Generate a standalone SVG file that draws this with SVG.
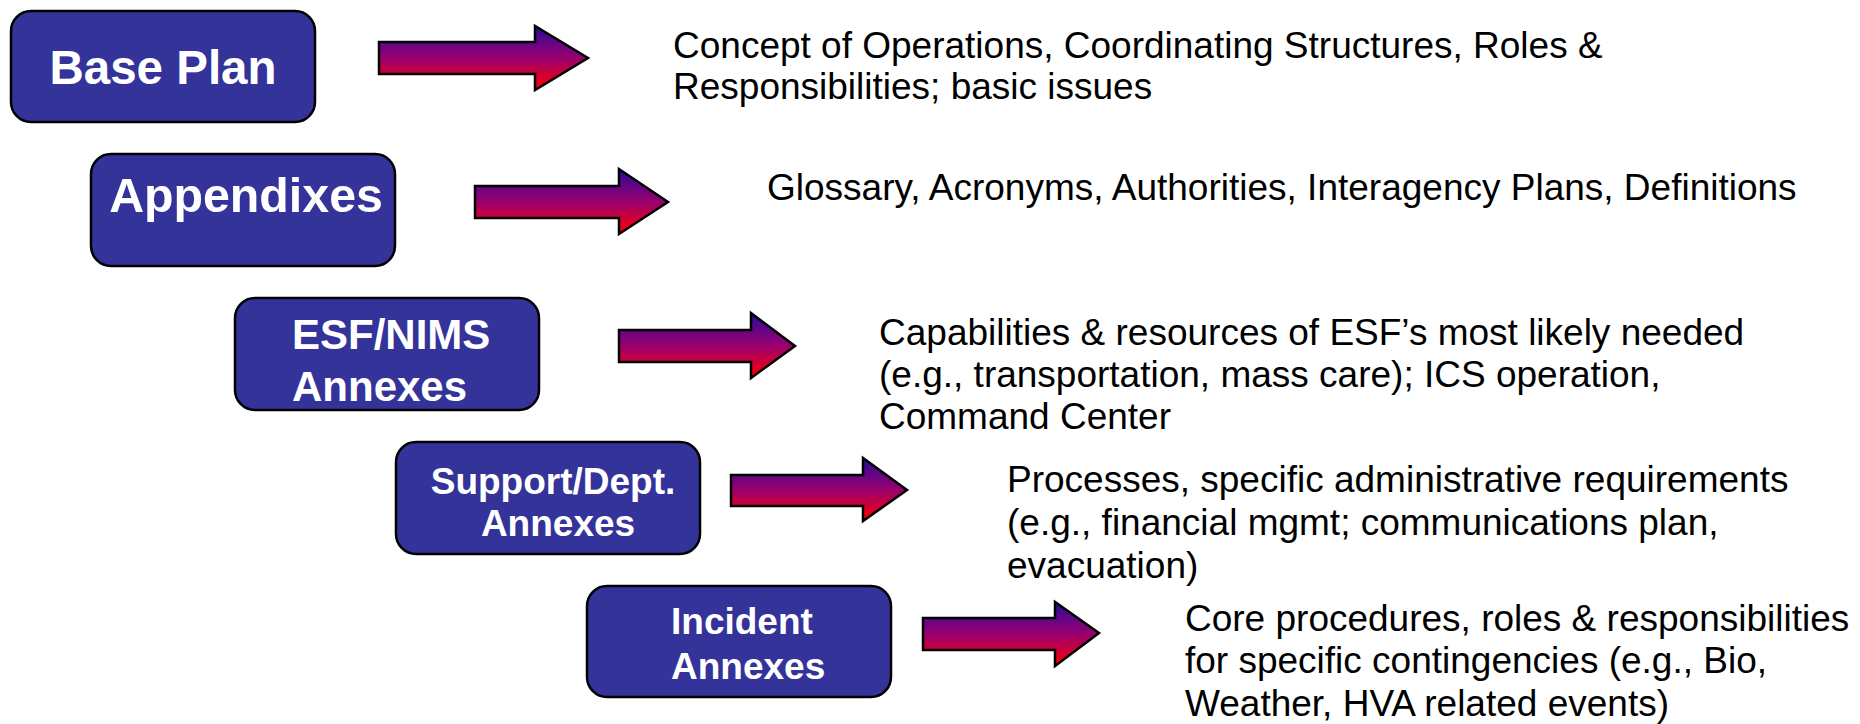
<svg xmlns="http://www.w3.org/2000/svg" width="1860" height="724" viewBox="0 0 1860 724">
<defs>
<linearGradient id="ag" x1="0" y1="0" x2="0" y2="1">
<stop offset="0" stop-color="#2a0a9a"/>
<stop offset="0.5" stop-color="#990070"/>
<stop offset="1" stop-color="#ff0000"/>
</linearGradient>
<style>
.box{fill:#333399;stroke:#000;stroke-width:2.5}
.bt{font-family:"Liberation Sans",Arial,sans-serif;font-weight:bold;fill:#fff}
.arr{fill:url(#ag);stroke:#000;stroke-width:2.5;stroke-linejoin:miter}
.tx{font-family:"Liberation Sans",Arial,sans-serif;font-size:37px;fill:#000}
</style>
</defs>
<rect width="1860" height="724" fill="#fff"/>
<g id="base-plan">
<rect class="box" x="11" y="11" width="304" height="111" rx="20"/>
<text class="bt" x="163" y="84" font-size="47.5" text-anchor="middle">Base Plan</text>
</g>
<g id="appendixes">
<rect class="box" x="91" y="154" width="304" height="112" rx="20"/>
<text class="bt" x="246" y="212" font-size="48.3" text-anchor="middle">Appendixes</text>
</g>
<g id="esf-nims">
<rect class="box" x="235" y="298" width="304" height="112" rx="20"/>
<text class="bt" x="292" y="349" font-size="42">ESF/NIMS</text>
<text class="bt" x="292" y="401" font-size="42">Annexes</text>
</g>
<g id="support-dept">
<rect class="box" x="396" y="442" width="304" height="112" rx="20"/>
<text class="bt" x="553" y="494" font-size="37" text-anchor="middle">Support/Dept.</text>
<text class="bt" x="558" y="536" font-size="37" text-anchor="middle">Annexes</text>
</g>
<g id="incident">
<rect class="box" x="587" y="586" width="304" height="111" rx="20"/>
<text class="bt" x="671" y="634" font-size="37">Incident</text>
<text class="bt" x="671" y="679" font-size="37">Annexes</text>
</g>
<g id="connectors">
<polygon class="arr" points="379,42 535,42 535,26 588,58 535,90 535,74 379,74"/>
<polygon class="arr" points="475,186 619,186 619,169 668,202 619,234 619,218 475,218"/>
<polygon class="arr" points="619,330 751,330 751,313 795,346 751,378 751,362 619,362"/>
<polygon class="arr" points="731,475 863,475 863,458 907,490 863,521 863,506 731,506"/>
<polygon class="arr" points="923,618 1055,618 1055,602 1099,633 1055,666 1055,650 923,650"/>
</g>
<g id="descriptions">
<text class="tx" x="673" y="58">Concept of Operations, Coordinating Structures, Roles &amp;</text>
<text class="tx" x="673" y="99">Responsibilities; basic issues</text>
<text class="tx" x="767" y="200" font-size="37.5">Glossary, Acronyms, Authorities, Interagency Plans, Definitions</text>
<text class="tx" x="879" y="345">Capabilities &amp; resources of ESF’s most likely needed</text>
<text class="tx" x="879" y="387">(e.g., transportation, mass care); ICS operation,</text>
<text class="tx" x="879" y="429">Command Center</text>
<text class="tx" x="1007" y="492" font-size="37.2">Processes, specific administrative requirements</text>
<text class="tx" x="1007" y="535" font-size="37.2">(e.g., financial mgmt; communications plan,</text>
<text class="tx" x="1007" y="578" font-size="37.2">evacuation)</text>
<text class="tx" x="1185" y="631">Core procedures, roles &amp; responsibilities</text>
<text class="tx" x="1185" y="673">for specific contingencies (e.g., Bio,</text>
<text class="tx" x="1185" y="716">Weather, HVA related events)</text>
</g>
</svg>
